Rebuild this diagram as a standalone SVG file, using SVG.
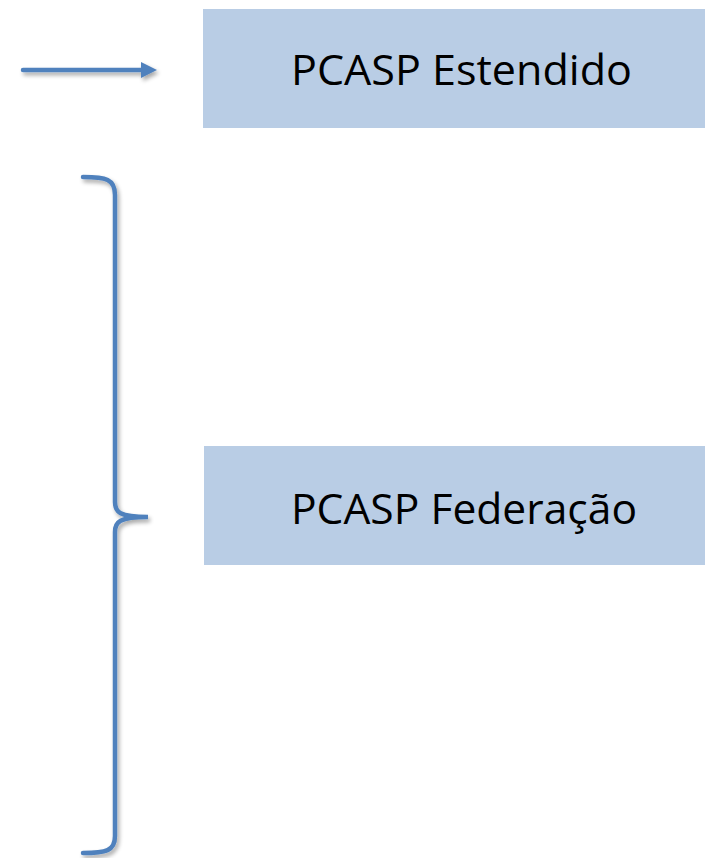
<svg xmlns="http://www.w3.org/2000/svg" width="706" height="858" viewBox="0 0 706 858">
<style>
.box{fill:#b9cde5}
.lbl{font-family:"Open Sans","Liberation Sans",sans-serif;font-size:42px;fill:#000}
.conn{fill:none;stroke:#4f81bd;stroke-width:4.5;stroke-linecap:round}
</style>
<defs>
<filter id="sh" x="-20%" y="-20%" width="140%" height="140%">
<feGaussianBlur in="SourceAlpha" stdDeviation="2"/>
<feOffset dx="2" dy="3" result="b"/>
<feComponentTransfer><feFuncA type="linear" slope="0.35"/></feComponentTransfer>
<feMerge><feMergeNode/><feMergeNode in="SourceGraphic"/></feMerge>
</filter>
<marker id="ah" markerUnits="userSpaceOnUse" markerWidth="18" markerHeight="18" refX="2" refY="9" orient="auto">
<path d="M0,1 L16,9 L0,17 Z" fill="#4f81bd"/>
</marker>
</defs>
<rect width="706" height="858" fill="#fff"/>
<g id="n1">
<rect class="box" x="203" y="9" width="502" height="119"/>
<text class="lbl" x="291" y="85" textLength="341" lengthAdjust="spacingAndGlyphs">PCASP Estendido</text>
</g>
<g id="n2">
<rect class="box" x="204" y="446" width="501" height="119"/>
<text class="lbl" x="291" y="524" textLength="346" lengthAdjust="spacingAndGlyphs">PCASP Federação</text>
</g>
<g id="connectors" filter="url(#sh)">
<path class="conn" d="M23,70 L143,70" marker-end="url(#ah)"/>
<path class="conn" d="M83,177 C106,177 115,179 115,195 L115,502 C115,512 119,517 148,517 C119,517 115,522 115,532 L115,836 C115,851 106,853 83,853"/>
</g>
</svg>
